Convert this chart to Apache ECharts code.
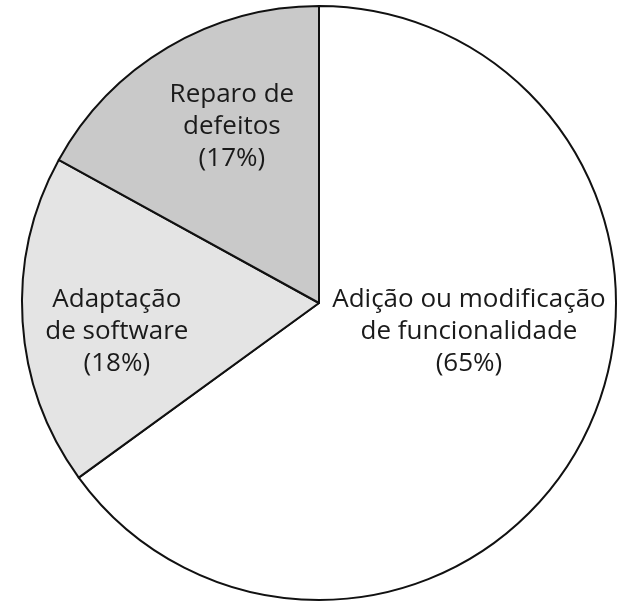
<!DOCTYPE html>
<html>
<head>
<meta charset="utf-8">
<script src="https://cdn.jsdelivr.net/npm/echarts@6/dist/echarts.min.js"></script>
<style>
  html, body { margin: 0; padding: 0; background: #fff; }
  #chart { width: 629px; height: 605px; }
</style>
</head>
<body>
<div id="chart"></div>
<script>
// categories and shares (clockwise from 12 o'clock)
const categories = ['Adição ou modificação\nde funcionalidade', 'Adaptação\nde software', 'Reparo de\ndefeitos'];
const shares = [65, 18, 17];
const fills = ['#ffffff', '#e4e4e4', '#c9c9c9'];
// nudge each label from the default inside spot
const labelOffsets = [[15, -40], [-51, 19], [-10, -46]];

const chart = echarts.init(document.getElementById('chart'));

const data = categories.map((name, i) => ({
  name: name,
  value: shares[i],
  itemStyle: { color: fills[i] },
  label: { offset: labelOffsets[i] }
}));

chart.setOption({
  animation: false,
  series: [{
    type: 'pie',
    center: [319, 303],
    radius: [0, 297],
    startAngle: 90,
    clockwise: true,
    avoidLabelOverlap: false,
    itemStyle: { borderColor: '#111', borderWidth: 2 },
    label: {
      show: true,
      position: 'inside',
      formatter: p => p.name + '\n(' + p.value + '%)',
      fontFamily: 'Open Sans',
      fontSize: 26,
      lineHeight: 32,
      color: '#1a1a1a',
      align: 'center'
    },
    labelLine: { show: false },
    emphasis: { disabled: true },
    data: data
  }]
});
</script>
</body>
</html>
